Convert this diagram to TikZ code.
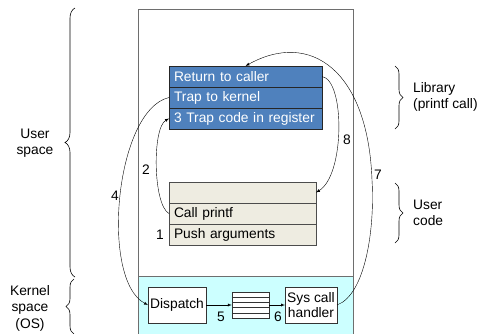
\documentclass[tikz,border=0pt]{standalone}
\usepackage{fontspec}
\setmainfont{Liberation Sans}
\usetikzlibrary{arrows}
\usetikzlibrary{calc}
\usetikzlibrary{positioning}
\usetikzlibrary{decorations.pathreplacing}

\definecolor{libblue}{RGB}{79,129,189}
\definecolor{usertan}{RGB}{238,236,225}
\definecolor{kernelcyan}{RGB}{204,255,255}
\definecolor{framegray}{RGB}{110,110,110}

\tikzset{
  librow/.style={draw=black!85, fill=libblue, text=white, text width=143pt,
    inner xsep=5pt, inner ysep=0pt, minimum height=21pt, align=left, outer sep=0pt},
  userrow/.style={draw=black!70, fill=usertan, text width=137pt,
    inner xsep=5pt, inner ysep=0pt, minimum height=21pt, align=left, outer sep=0pt},
  kbox/.style={draw=black!80, fill=white, minimum height=36pt, align=center,
    inner sep=0pt, outer sep=0pt},
  num/.style={inner sep=1pt},
  flow/.style={->, >=latex, thin},
  sidebrace/.style={decorate, decoration={brace, amplitude=#1}, semithick},
  sidetext/.style={align=center, inner sep=0pt}
}

\begin{document}
\begin{tikzpicture}[x=1pt, y=-1pt, font=\fontsize{13.8}{16.5}\selectfont]

  \useasboundingbox (0,0) rectangle (479,333);

  % Address space frame and kernel part
  \fill[kernelcyan] (138,276) rectangle (353,340);
  \draw[framegray] (138,340) -- (138,9) -- (353,9) -- (353,340);
  \draw[framegray] (138,276) -- (353,276);

  % Library stack
  \node[librow, anchor=north west] (ret) at (169,66) {Return to caller};
  \node[librow, below=0pt of ret] (trap) {Trap to kernel};
  \node[librow, below=0pt of trap] (code) {3 Trap code in register};

  % User code stack
  \node[userrow, anchor=north west] (blank) at (169,182) {\strut};
  \node[userrow, below=0pt of blank] (call) {Call printf};
  \node[userrow, below=0pt of call] (push) {Push arguments};

  % Kernel boxes
  \node[kbox, minimum width=58pt] (disp) at (177,305) {Dispatch};
  \node[draw=black!80, fill=white, minimum width=37pt, minimum height=26pt,
        inner sep=0pt] (tbl) at (250.5,305) {};
  \foreach \i in {1,...,4}
    \draw[black!80] ($(tbl.north west)!\i/5!(tbl.south west)$) --
                    ($(tbl.north east)!\i/5!(tbl.south east)$);
  \node[kbox, minimum width=52pt] (sys) at (311,305) {Sys call\\[-2pt]handler};

  % Steps
  \draw[flow] (call.west) .. controls (153,205) and (152,128) .. (code.west);
  \draw[flow] (trap.west) .. controls (115,110) and (100,280) .. (disp.west);
  \draw[flow] (disp.east) -- (tbl.west);
  \draw[flow] (tbl.east) -- (sys.west);
  \coordinate (turn) at (372,180);
  \draw[flow] (sys.east) .. controls (365,295) and (375,230) .. (turn)
                         .. controls (368,70) and (310,30) .. (ret.north);
  \draw[flow] (ret.east) .. controls (345,80) and (345,175) .. (blank.east);

  \node[num] (nA) at (160,235) {1};
  \node[num] (nB) at (146,170) {2};
  \node[num] (nD) at (115,196) {4};
  \node[num] (nE) at (221,317) {5};
  \node[num] (nF) at (278,317) {6};
  \node[num] (nG) at (378,175) {7};
  \node[num] (nH) at (347,140) {8};

  % Braces and their texts
  \draw[sidebrace=10pt] (75,277) -- (75,8);
  \draw[sidebrace=8pt] (74,334) -- (74,279);
  \draw[sidebrace=8pt] (395,66) -- (395,129);
  \draw[sidebrace=8pt] (395,183) -- (395,243);

  \node[sidetext] (ulabel) at (35,143) {User\\space};
  \node[sidetext] (klabel) at (30,308) {Kernel\\space\\(OS)};
  \node[sidetext, align=left, anchor=west] (llabel) at (413,97) {Library\\(printf call)};
  \node[sidetext, align=left, anchor=west] (clabel) at (413,213) {User\\code};

\end{tikzpicture}
\end{document}
